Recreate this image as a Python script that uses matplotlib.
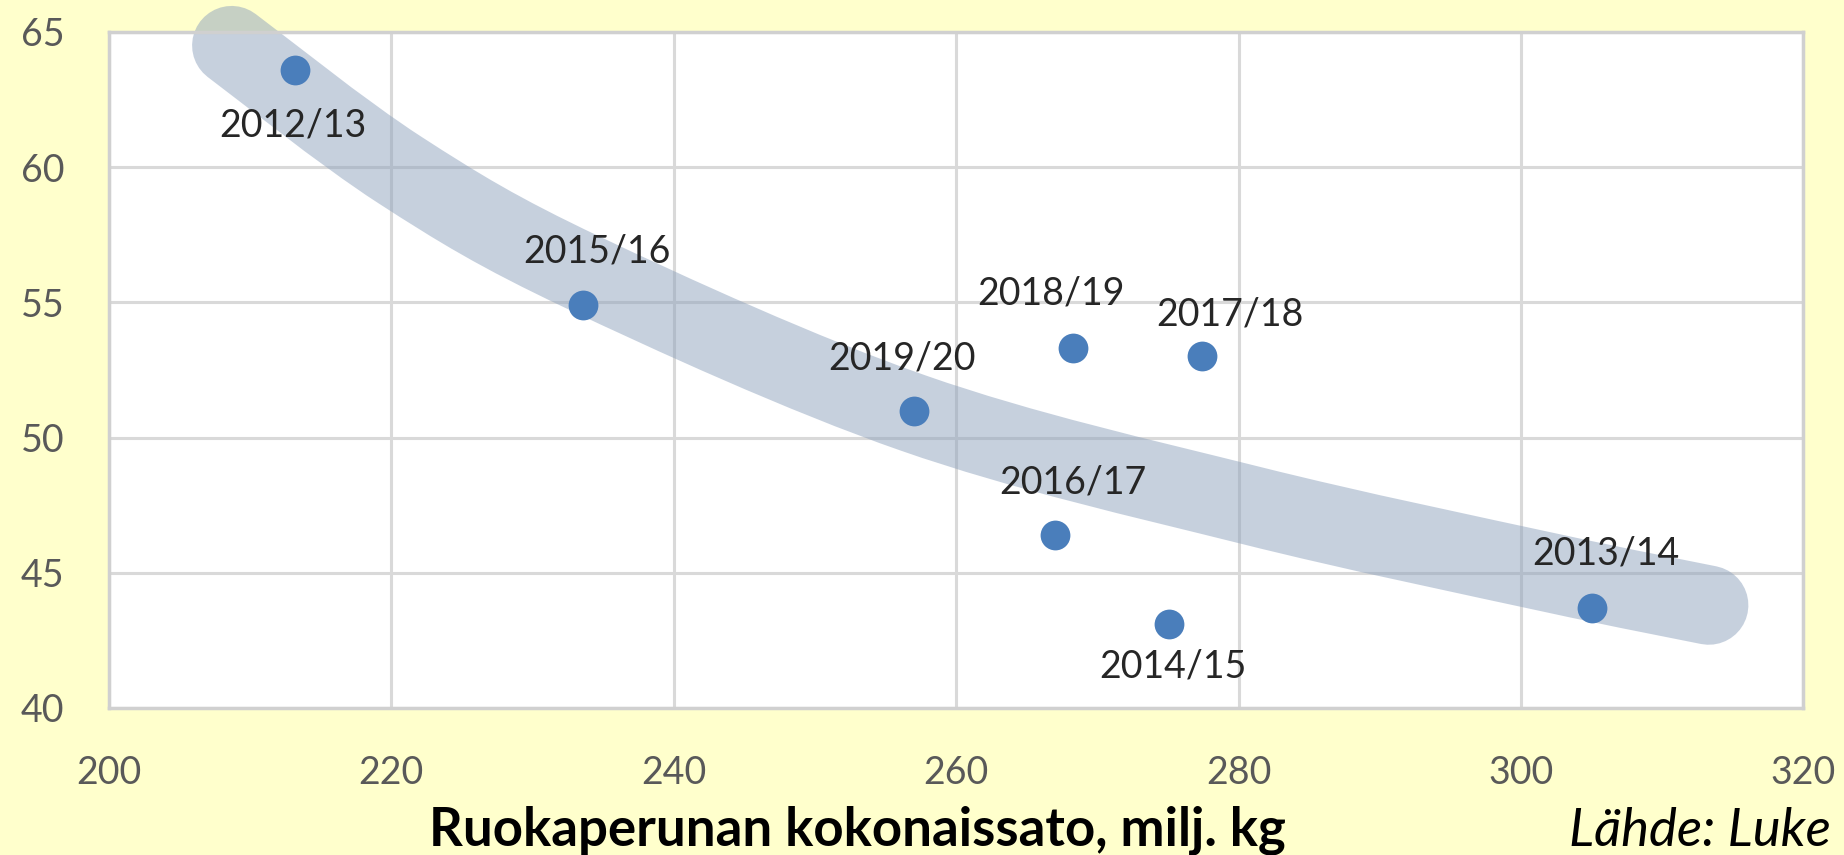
import matplotlib.pyplot as plt
from matplotlib.path import Path
from matplotlib.patches import PathPatch

# Potato harvest vs. value
seasons = ['2012/13', '2015/16', '2019/20', '2018/19', '2017/18', '2016/17', '2014/15', '2013/14']
harvest = [213.2, 233.6, 257.0, 268.3, 277.4, 267.0, 275.1, 305.0]
value = [63.6, 54.9, 51.0, 53.3, 53.0, 46.4, 43.1, 43.7]

# hand-drawn trend band (centre line)
band_x = [208.7, 220.6, 233.6, 257.0, 280.8, 302.1, 313.3]
band_y = [64.5, 59.9, 56.1, 50.9, 47.5, 45.0, 43.8]

x_ticks = [200, 220, 240, 260, 280, 300, 320]
y_ticks = [40, 45, 50, 55, 60, 65]

# label offsets in pixels (dx, dy)
label_offsets = {
    '2012/13': (-2, -56), '2015/16': (14, 54), '2019/20': (-12, 52),
    '2018/19': (-22, 55), '2017/18': (28, 42), '2016/17': (18, 52),
    '2014/15': (4, -42), '2013/14': (14, 54),
}


def smooth_path(xs, ys):
    # Catmull-Rom through the points, as cubic bezier segments
    pts = list(zip(xs, ys))
    verts = [pts[0]]
    codes = [Path.MOVETO]
    for i in range(len(pts) - 1):
        p0 = pts[i - 1] if i > 0 else pts[i]
        p1, p2 = pts[i], pts[i + 1]
        p3 = pts[i + 2] if i + 2 < len(pts) else pts[i + 1]
        c1 = (p1[0] + (p2[0] - p0[0]) / 6, p1[1] + (p2[1] - p0[1]) / 6)
        c2 = (p2[0] - (p3[0] - p1[0]) / 6, p2[1] - (p3[1] - p1[1]) / 6)
        verts += [c1, c2, p2]
        codes += [Path.CURVE4] * 3
    return Path(verts, codes)


plt.rcParams['font.family'] = ['Lato', 'DejaVu Sans']

fig = plt.figure(figsize=(18.44, 8.55), dpi=100, facecolor='#FFFFCC')
ax = fig.add_axes([0.059, 0.172, 0.919, 0.7906])
ax.set_facecolor('white')

ax.set_xlim(200, 320)
ax.set_ylim(40, 65)
ax.set_xticks(x_ticks)
ax.set_yticks(y_ticks)
ax.grid(True, color='#D9D9D9', linewidth=2.2, zorder=0)
ax.set_axisbelow(True)
for sp in ax.spines.values():
    sp.set_color('#D0D0D0')
    sp.set_linewidth(2.5)
ax.tick_params(length=0, labelsize=27, labelcolor='#595959')
ax.tick_params(axis='x', pad=34)
ax.tick_params(axis='y', pad=32)

band = PathPatch(smooth_path(band_x, band_y), facecolor='none', edgecolor='#8EA2BD',
                 alpha=0.5, linewidth=57, capstyle='round', joinstyle='round',
                 clip_on=False, zorder=2)
ax.add_patch(band)

ax.scatter(harvest, value, s=460, color='#4A7EBB', zorder=4, linewidths=0)

for s, x, y in zip(seasons, harvest, value):
    dx, dy = label_offsets[s]
    ax.annotate(s, (x, y), xytext=(dx, dy), textcoords='offset pixels',
                ha='center', va='center', fontsize=27, color='#262626', zorder=5)

fig.text(0.465, 0.011, 'Ruokaperunan kokonaissato, milj. kg', ha='center', va='baseline',
         fontsize=38, fontweight='bold', color='black')
fig.text(0.851, 0.011, 'Lähde: Luke', ha='left', va='baseline',
         fontsize=38, style='italic', color='black')

fig.savefig('out.png', dpi=100, facecolor=fig.get_facecolor())
